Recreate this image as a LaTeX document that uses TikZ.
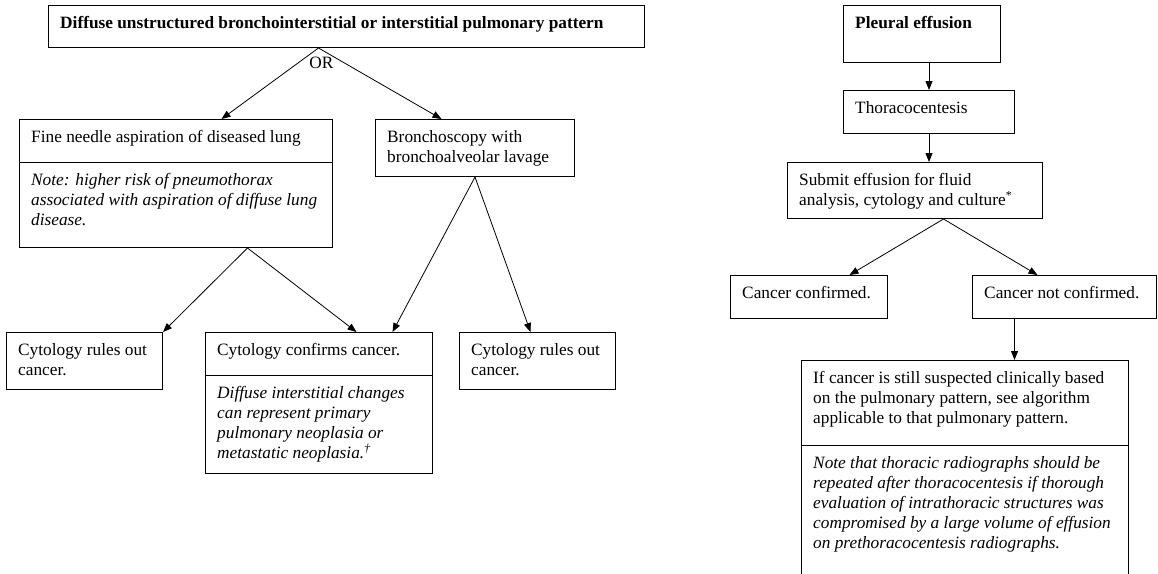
\documentclass[tikz,border=0pt]{standalone}
\usepackage{fontspec}
\setmainfont{Liberation Serif}
\usepackage{tikz}
\usetikzlibrary{positioning,arrows.meta,calc}

\begin{document}
\begin{tikzpicture}[
    x=1pt, y=-1pt,
    font=\fontsize{17.3}{20}\selectfont,
    box/.style 2 args={draw, line width=1pt, anchor=north west, inner sep=0pt, minimum width=#1, minimum height=#2},
    txt/.style={anchor=north west, align=left, inner sep=0pt, xshift=12pt, yshift=-11.5pt},
    note/.style={txt, font=\fontsize{17.3}{20}\selectfont\itshape},
    head/.style={txt, font=\fontsize{17.3}{20}\selectfont\bfseries},
    arrow/.style={-{Triangle[length=9pt, width=7pt]}, line width=0.8pt}
  ]
  \clip (0,0) rectangle (1158,573);

  % left algorithm
  \node[box={596pt}{42pt}, label={[head]north west:Diffuse unstructured bronchointerstitial or interstitial pulmonary pattern}] (top) at (48,5) {};
  \node[box={313pt}{43pt}, label={[txt]north west:Fine needle aspiration of diseased lung}] (fna) at (19,119) {};
  \node[box={313pt}{85pt}, label={[note]north west:{Note: higher risk of pneumothorax\\associated with aspiration of diffuse lung\\disease.}}] (fnanote) at (19,162) {};
  \node[box={199pt}{57pt}, label={[txt]north west:{Bronchoscopy with\\bronchoalveolar lavage}}] (bronch) at (375,119) {};
  \node[box={156pt}{57pt}, label={[txt]north west:{Cytology rules out\\cancer.}}] (leftcyt) at (6,332) {};
  \node[box={227pt}{43pt}, label={[txt]north west:Cytology confirms cancer.}] (conf) at (205,332) {};
  \node[box={227pt}{98pt}, label={[note]north west:{Diffuse interstitial changes\\can represent primary\\pulmonary neoplasia or\\metastatic neoplasia.\textsuperscript{†}}}] (confnote) at (205,375) {};
  \node[box={156pt}{57pt}, label={[txt]north west:{Cytology rules out\\cancer.}}] (rightcyt) at (459,332) {};

  \coordinate (orsplit) at ([xshift=-28pt]top.south);
  \node[inner sep=0pt, below=9pt of orsplit, xshift=3pt] (ortext) {OR};

  \draw[arrow] (orsplit) -- ([xshift=45.5pt]fna.north);
  \draw[arrow] (orsplit) -- ([xshift=-33.5pt]bronch.north);
  \draw[arrow] ([xshift=71.5pt]fnanote.south) -- (leftcyt.north east);
  \draw[arrow] ([xshift=71.5pt]fnanote.south) -- ([xshift=37.5pt]conf.north);
  \draw[arrow] (bronch.south) -- ([xshift=73.5pt]conf.north);
  \draw[arrow] (bronch.south) -- ([xshift=-7pt]rightcyt.north);

  % right algorithm
  \node[box={157pt}{57pt}, label={[head]north west:Pleural effusion}] (pleural) at (843,5) {};
  \node[box={171pt}{43pt}, label={[txt]north west:Thoracocentesis}] (thoraco) at (843,90) {};
  \node[box={255pt}{56pt}, label={[txt]north west:{Submit effusion for fluid\\analysis, cytology and culture\textsuperscript{*}}}] (submit) at (787,162) {};
  \node[box={157pt}{43pt}, label={[txt]north west:Cancer confirmed.}] (cconf) at (730,275) {};
  \node[box={184pt}{43pt}, label={[txt]north west:Cancer not confirmed.}] (cnot) at (972,275) {};
  \node[box={327pt}{85pt}, label={[txt]north west:{If cancer is still suspected clinically based\\on the pulmonary pattern, see algorithm\\applicable to that pulmonary pattern.}}] (big) at (801,360) {};
  \node[box={327pt}{140pt}, label={[note]north west:{Note that thoracic radiographs should be\\repeated after thoracocentesis if thorough\\evaluation of intrathoracic structures was\\compromised by a large volume of effusion\\on prethoracocentesis radiographs.}}] (bignote) at (801,445) {};

  \draw[arrow] (pleural.south -| thoraco.north) -- (thoraco.north);
  \draw[arrow] (thoraco.south) -- (thoraco.south |- submit.north);
  \draw[arrow] ([xshift=28.5pt]submit.south) -- ([xshift=40.5pt]cconf.north);
  \draw[arrow] ([xshift=28.5pt]submit.south) -- ([xshift=-27pt]cnot.north);
  \draw[arrow] ([xshift=-50pt]cnot.south) -- ([xshift=-50pt]cnot.south |- big.north);
\end{tikzpicture}
\end{document}
